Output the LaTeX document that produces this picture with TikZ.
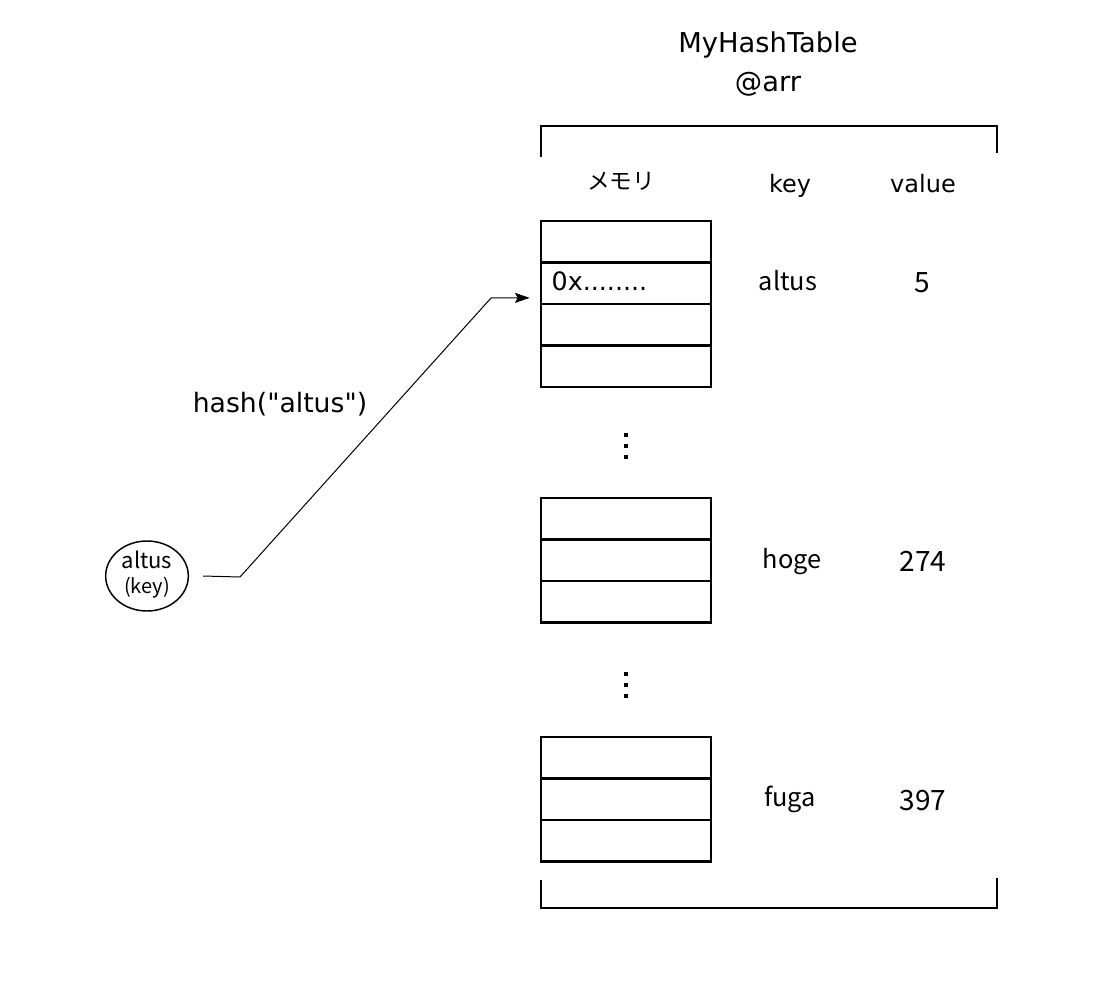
\documentclass[tikz,border=0pt]{standalone}
\usepackage{fontspec}
\setmainfont{DejaVu Sans}[Ligatures=TeXOff]
\newfontfamily\jpfont{Noto Sans CJK JP}
\usetikzlibrary{positioning,arrows.meta,shapes.geometric}

\begin{document}
\begin{tikzpicture}[x=0.75pt,y=-0.75pt,
    cell/.style={draw,line width=1.9pt,minimum width=127.5pt,minimum height=31.1pt,
      outer sep=0pt,inner sep=0pt},
    bracket/.style={line width=1.1pt},
    title/.style={anchor=base,font=\fontsize{20.5}{23}\selectfont},
    colhead/.style={anchor=base,font=\fontsize{18}{20}\selectfont},
    entry/.style={anchor=base,font=\jpfont\fontsize{19}{21}\selectfont},
    numval/.style={anchor=base,font=\jpfont\fontsize{21}{23}\selectfont}]
    \useasboundingbox (0,0) rectangle (1102,984);

    % Table name
    \node[title] (tname) at (768,53) {MyHashTable};
    \node[title] (arrname) at (768,92) {@arr};

    % Brackets round the array
    \draw[bracket] (541,157) -- (541,126) -- (997,126) -- (997,153);
    \draw[bracket] (541,880) -- (541,908) -- (997,908) -- (997,878);

    % Column headings
    \node[anchor=base,font=\jpfont\fontsize{17}{20}\selectfont] (memhead) at (621,190) {メモリ};
    \node[colhead] (keyhead) at (790,193) {key};
    \node[colhead] (valhead) at (923,193) {value};

    % Memory cells
    \foreach \g/\top/\n in {a/221/4,b/498/3,c/737/3} {
        \node[cell,anchor=north] (\g1) at (626,\top) {};
        \foreach \r [remember=\r as \p (initially 1)] in {2,...,\n}
            \node[cell,below=0pt of \g\p] (\g\r) {};
    }
    \node[anchor=base west,font=\fontsize{19}{21}\selectfont] (addr) at (547,291) {0x........};

    % Dots between the groups
    \foreach \y in {435,446,457,674,685,696}
        \fill (624,\y-2) rectangle ++(4,4);

    % Keys and values
    \node[entry] (k1) at (788,290) {altus};
    \node[numval] (v1) at (922,292) {5};
    \node[entry] (k2) at (792,568) {hoge};
    \node[numval] (v2) at (923,571) {274};
    \node[entry] (k3) at (790,806) {fuga};
    \node[numval] (v3) at (923,810) {397};

    % The key and the hash function
    \node[draw,ellipse,line width=1.1pt,minimum width=62pt,minimum height=52.5pt,inner sep=0pt] (key) at (147,576) {};
    \node[anchor=base,font=\jpfont\fontsize{16.5}{18}\selectfont] (keyname) at (147,568) {altus};
    \node[anchor=base,font=\jpfont\fontsize{15}{16}\selectfont] (keytag) at (147,593) {(key)};
    \node[anchor=base,font=\fontsize{20}{22}\selectfont] (hashfn) at (280,412) {hash("altus")};

    \coordinate (kneeA) at (240,577);
    \coordinate (kneeB) at (491,298);
    \draw[line width=0.75pt,-{Stealth[length=11pt,width=7.5pt,inset=2pt]}] (key.east) ++(14,0) -- (kneeA) -- (kneeB)
        -- ([xshift=-8.5pt,yshift=-11pt]a2.west);
\end{tikzpicture}
\end{document}
